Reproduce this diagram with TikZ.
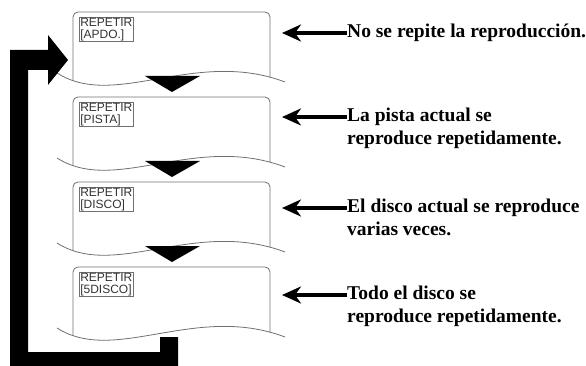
\documentclass[tikz,border=0pt]{standalone}
\usepackage{fontspec}
\setmainfont{Liberation Serif}
\setsansfont{Liberation Sans}
\usetikzlibrary{arrows.meta,positioning}
\definecolor{PanelGray}{HTML}{707070}
\definecolor{LabelGray}{HTML}{333333}
\tikzset{
  panelline/.style={draw=PanelGray,line width=0.8pt},
  screenlabel/.style={draw=PanelGray,line width=0.6pt,anchor=north west,inner sep=1pt,align=left,font=\sffamily\fontsize{12}{11.5}\selectfont,text=LabelGray},
  stepmark/.style={fill=black},
  pointer/.style={-{Stealth[length=19pt,width=17pt,inset=6pt]},line width=3.2pt},
  desc/.style={anchor=north west,inner sep=0pt,align=left,font=\bfseries\fontsize{19.5}{23}\selectfont}
}

\begin{document}
\begin{tikzpicture}[x=1pt,y=-1pt]
  \useasboundingbox (0,0) rectangle (586,366);
  % display panels
  \foreach \i/\mode in {1/{[APDO.]},2/{[PISTA]},3/{[DISCO]},4/{[5DISCO]}} {
    \pgfmathsetmacro{\T}{12+85*(\i-1)}
    \begin{scope}[shift={(0,\T)}]
      \begin{scope}
        \clip (57,61) .. controls (115,98) and (195,36) .. (285,70) -- (285,-10) -- (57,-10) -- cycle;
        \draw[panelline,rounded corners=5pt] (73,90) -- (73,0) -- (270,0) -- (270,90);
      \end{scope}
      \draw[panelline] (57,61) .. controls (115,98) and (195,36) .. (285,70);
      \node[screenlabel] (rep\i) at (79,5) {REPETIR\\\relax\mode};
      \ifnum\i<4
        \fill[stepmark] (145,64) -- (200,64) -- (172,80) -- cycle;
      \fi
    \end{scope}
  }
  % return loop
  \fill (68,60) -- (48,35) -- (48,50) -- (10,50) -- (10,366) -- (178,366) -- (178,337)
    -- (160,337) -- (160,352) -- (28,352) -- (28,70) -- (48,70) -- (48,85) -- cycle;
  % descriptions
  \coordinate (tip1) at (282,33);
  \coordinate (tip2) at (282,117);
  \coordinate (tip3) at (282,208);
  \coordinate (tip4) at (282,295);
  \node[desc] (desc1) at (347,24) {No se repite la reproducción.};
  \node[desc] (desc2) at (347,108) {La pista actual se\\reproduce repetidamente.};
  \node[desc] (desc3) at (347,199) {El disco actual se reproduce\\varias veces.};
  \node[desc] (desc4) at (347,286) {Todo el disco se\\reproduce repetidamente.};
  \foreach \k in {1,...,4}
    \draw[pointer] (desc\k.west |- tip\k) -- (tip\k);
\end{tikzpicture}
\end{document}
